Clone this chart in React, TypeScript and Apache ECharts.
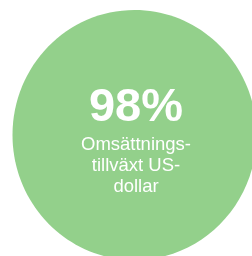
import React, { useEffect, useRef } from "react";
import * as echarts from "echarts";

const kpiLabel = ["98%"];
const captionLines = ["Omsättnings-", "tillväxt US-", "dollar"];

export default function App() {
  const ref = useRef<HTMLDivElement>(null);
  useEffect(() => {
    if (!ref.current) return;
    const chart = echarts.init(ref.current, null, { renderer: "svg" });
    const tx = 136;
    const font = "'Liberation Sans', Arial, sans-serif";
    chart.setOption({
      animation: false,
      graphic: {
        elements: [
          {
            type: "ellipse",
            z: 1,
            silent: true,
            shape: { cx: 134.5, cy: 135, rx: 122, ry: 125 },
            style: { fill: "#93D08B" },
          },
          {
            type: "text",
            x: tx,
            y: 104,
            z: 100,
            style: {
              text: kpiLabel[0],
              fill: "#ffffff",
              font: `bold 47px ${font}`,
              align: "center",
              verticalAlign: "middle",
            },
          },
          ...captionLines.map((t, i) => ({
            type: "text",
            x: tx,
            y: 143.5 + i * 21,
            z: 100,
            style: {
              text: t,
              fill: "#ffffff",
              font: `18.5px ${font}`,
              align: "center",
              verticalAlign: "middle",
            },
          })),
        ],
      },
    });
    return () => chart.dispose();
  }, []);
  return (
    <div
      ref={ref}
      style={{ position: "fixed", left: 0, top: 0, width: 252, height: 256 }}
    />
  );
}
